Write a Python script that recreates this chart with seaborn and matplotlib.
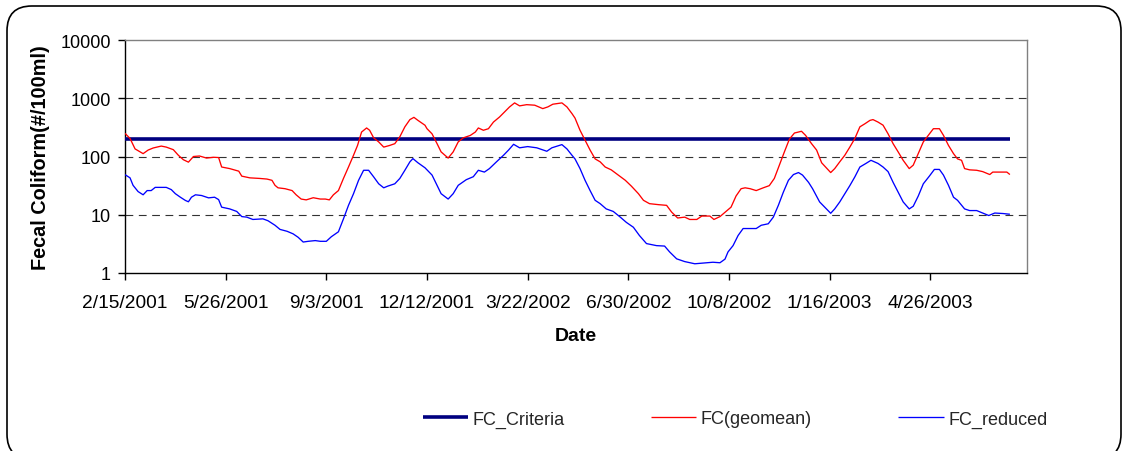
import matplotlib
matplotlib.use("Agg")
import matplotlib.pyplot as plt
import matplotlib.dates as mdates
from matplotlib.patches import FancyBboxPatch
from matplotlib.ticker import FixedLocator, FuncFormatter, NullLocator
import numpy as np
import pandas as pd
import seaborn as sns

# ---- data -------------------------------------------------------------
start_date = "2001-02-15"

criteria_days = [0, 879]
criteria_vals = [200, 200]

geomean_days = [0, 5, 10, 18, 23, 28, 36, 41, 48, 53, 58, 63, 68, 74, 81, 88, 93, 96, 104, 113, 116, 124, 134, 141, 146, 149,
                152, 159, 166, 170, 175, 180, 187, 194, 199, 203, 207, 212, 217, 222, 227, 231, 235, 240, 243, 247, 252, 257,
                263, 268, 273, 278, 283, 287, 291, 298,
                300, 305, 310, 314, 321, 326, 331, 336, 343, 348, 351, 356, 361, 366, 372, 377, 382, 387, 392, 399, 407, 415,
                420, 425, 434, 439, 444, 447,
                452, 457, 462, 467, 472, 477, 483, 490, 497, 503, 510, 515, 521, 530, 538, 543, 549, 556, 561, 568, 573, 581,
                585, 591, 596,
                602, 607, 612, 616, 621, 627, 634, 640, 645, 650, 655, 660, 665, 672, 676, 682, 687, 692, 697, 701, 705, 710,
                715, 720, 725, 730, 735, 740,
                743, 748, 753, 758, 763, 768, 773, 779, 783, 788, 793, 798, 803, 809, 813, 818, 823, 827, 831, 834, 839, 846,
                852, 859, 862, 869, 876, 879]
geomean_vals = [250, 204, 135, 112, 129, 140, 151, 145, 131, 105, 88, 80, 100, 102, 94, 97, 96, 66, 62, 56, 46, 43, 42, 41, 39, 32,
                29, 28, 26, 22, 18.6, 18, 19.6, 18.6, 18.6, 18, 22, 26, 42, 66, 105, 155, 263, 309, 282, 209, 178, 145,
                155, 166, 218, 323, 430, 470, 417, 344,
                300, 245, 166, 120, 94, 120, 178, 209, 230, 263, 309, 282, 300, 390, 476, 582, 710, 832, 740, 776, 760, 664,
                710, 790, 832, 710, 545, 457,
                282, 190, 129, 91, 81, 66, 59, 48, 39, 31, 23, 17.7, 15.5, 14.9, 14.5, 11.1, 8.8, 9.1, 8.3, 8.3, 9.5, 9.5,
                8.3, 9.3, 11,
                13.5, 21, 28, 29, 28, 26, 29, 31.6, 42, 71, 120, 199, 253, 271, 231, 166, 129, 78, 63, 53, 62, 81,
                105, 145, 204, 323, 365, 417,
                430, 390, 345, 245, 166, 120, 86, 62, 71, 112, 178, 231, 300, 300, 231, 155, 112, 91, 86, 62, 59, 58,
                55, 49, 54, 54, 54, 49]

reduced_days = [0, 5, 8, 13, 18, 22, 26, 30, 41, 46, 50, 55, 60, 63, 66, 70, 76, 83, 89, 93, 96, 104, 111, 116, 121, 127, 137, 142,
                149, 154, 161, 167, 172, 177, 182, 189, 194, 200, 205, 212, 217, 222, 227, 232, 237, 242, 247, 252, 257, 261,
                268, 273, 278, 283, 286, 291, 298,
                305, 310, 314, 321, 326, 331, 339, 346, 351, 357, 362, 369, 376, 381, 386, 392, 400, 409, 419, 424, 434, 439,
                444, 447,
                452, 457, 462, 467, 472, 478, 485, 492, 498, 505, 511, 518, 528, 536, 541, 548, 556, 566, 574, 584, 591, 596,
                599, 604, 609, 614, 621, 627, 632, 639, 644, 649, 654, 659, 664, 669, 673, 679, 683, 690, 695, 701, 705, 710,
                715, 720, 725, 730, 736, 741,
                748, 753, 758, 763, 768, 773, 779, 783, 788, 793, 799, 804, 809, 813, 818, 823, 827, 834, 839, 846, 852, 858,
                864, 872, 879]
reduced_vals = [48.8, 43, 32, 25, 22, 26, 26, 29.5, 29.5, 27, 23, 20, 17.6, 16.7, 20, 22, 21.4, 19.5, 20, 18.2, 13.5, 12.6, 11.4,
                9.3, 9.1, 8.3, 8.5, 7.9,
                6.6, 5.6, 5.2, 4.7, 4.1, 3.4, 3.5, 3.6, 3.5, 3.5, 4.2, 5.1, 8.5, 14.5, 23, 39, 58, 58, 44.7, 34, 29, 31,
                34, 42, 58, 81, 92, 78, 64,
                48, 32, 23, 18.6, 23, 32, 40, 45, 58, 54, 62, 81, 105, 129, 162, 141, 148, 141, 123, 141, 160, 135,
                105, 91,
                62, 39, 26, 17.7, 15.5, 12.6, 11.4, 9.1, 7.4, 6.1, 4.4, 3.2, 2.95, 2.9, 2.3, 1.75, 1.57, 1.44, 1.48, 1.53, 1.5, 1.73,
                2.3, 2.95, 4.4, 5.8, 5.8, 5.8, 6.6, 7.0, 9.1, 14.5, 24.5, 39, 49, 53, 48, 36, 28, 16.6, 13.5, 10.6, 12.6, 16.6,
                23, 31.6, 44.7, 66, 76, 86,
                76, 66, 55, 36, 24.5, 16.6, 12.6, 14, 21, 34, 46, 60, 60, 48, 32, 20, 17.7, 12.6, 11.8, 11.8, 10.7, 9.7,
                10.7, 10.5, 10.2]

series_names = ["FC_Criteria", "FC(geomean)", "FC_reduced"]
series_colors = ["#000080", "#FF0000", "#0000FF"]

y_ticks = [1, 10, 100, 1000, 10000]
x_tick_step_days = 100
x_span_days = 896


def to_dates(days):
    return pd.Timestamp(start_date) + pd.to_timedelta(np.asarray(days, dtype=float), unit="D")


# ---- style ------------------------------------------------------------
sns.set_theme(style="white")
plt.rcParams["font.family"] = ["Liberation Sans", "DejaVu Sans"]
plt.rcParams["lines.solid_capstyle"] = "butt"

fig = plt.figure(figsize=(11.28, 4.52), dpi=100)
fig.patch.set_facecolor("white")

# rounded outer chart frame
frame = FancyBboxPatch((7 / 1128, -8 / 452), 1114 / 1128, 453 / 452,
                       boxstyle="round,pad=0,rounding_size=0.022",
                       transform=fig.transFigure, facecolor="none",
                       edgecolor="black", linewidth=1.2, mutation_aspect=1128 / 452,
                       zorder=0)
fig.patches.append(frame)

ax = fig.add_axes([125 / 1128, 1 - 274 / 452, 902 / 1128, 233 / 452])
ax.set_facecolor("white")

# ---- series -----------------------------------------------------------
frames = [
    pd.DataFrame({"date": to_dates(criteria_days), "value": criteria_vals}),
    pd.DataFrame({"date": to_dates(geomean_days), "value": geomean_vals}),
    pd.DataFrame({"date": to_dates(reduced_days), "value": reduced_vals}),
]
widths = [2.6, 0.95, 0.95]
zorders = [3, 4, 4]
for df, name, col, lw, z in zip(frames, series_names, series_colors, widths, zorders):
    sns.lineplot(data=df, x="date", y="value", color=col, linewidth=lw,
                 label=name, estimator=None, sort=False, ax=ax, zorder=z)

# ---- axes -------------------------------------------------------------
ax.set_yscale("log")
ax.set_ylim(1, 10000)
ax.yaxis.set_major_locator(FixedLocator(y_ticks))
ax.yaxis.set_minor_locator(NullLocator())
ax.yaxis.set_major_formatter(FuncFormatter(lambda v, p: f"{int(round(v))}"))

x0 = pd.Timestamp(start_date)
ax.set_xlim(mdates.date2num(x0), mdates.date2num(x0 + pd.Timedelta(days=x_span_days)))
x_ticks = [x0 + pd.Timedelta(days=d) for d in range(0, x_span_days, x_tick_step_days)]
ax.xaxis.set_major_locator(FixedLocator(mdates.date2num(x_ticks)))
ax.xaxis.set_major_formatter(FuncFormatter(
    lambda v, p: (lambda d: f"{d.month}/{d.day}/{d.year}")(mdates.num2date(v))))

for gy in [10, 100, 1000]:
    ax.axhline(gy, color="#333333", linewidth=0.8, linestyle=(0, (7, 5)), zorder=1)

for side in ["top", "right"]:
    ax.spines[side].set_color("#808080")
    ax.spines[side].set_linewidth(1.0)
for side in ["left", "bottom"]:
    ax.spines[side].set_color("black")
    ax.spines[side].set_linewidth(1.0)

ax.tick_params(axis="both", which="major", direction="out", length=5, width=1,
               color="black", labelcolor="black")
ax.tick_params(axis="x", pad=10, labelsize=13.8, bottom=True)
ax.tick_params(axis="y", pad=5, labelsize=13, left=True)
ax.grid(False)

ax.set_xlabel("Date", fontsize=14, fontweight="bold", color="black")
ax.set_ylabel("Fecal Coliform(#/100ml)", fontsize=14.3, fontweight="bold", color="black")
ax.xaxis.set_label_coords(0.5, -0.232)
ax.yaxis.set_label_coords(-0.083, 0.5)

ax.legend_.remove()
handles, labels = ax.get_legend_handles_labels()
fig.legend(handles, labels, loc="center", bbox_to_anchor=(735 / 1128, 1 - 420 / 452),
           ncol=3, frameon=False, fontsize=13, handlelength=2.5,
           handletextpad=0.25, columnspacing=4.8)

fig.savefig("out.png", dpi=100, facecolor="white")
